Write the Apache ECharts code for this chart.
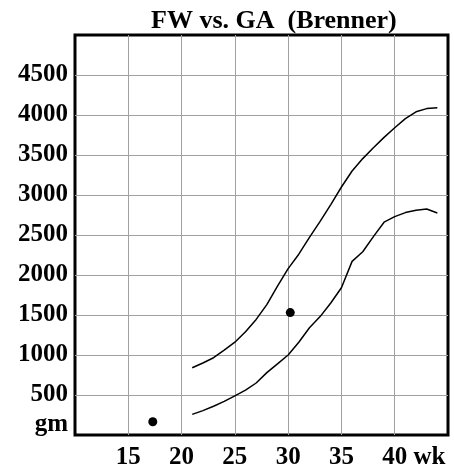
<!DOCTYPE html>
<html>
<head>
<meta charset="utf-8">
<script src="https://cdn.jsdelivr.net/npm/echarts@6/dist/echarts.min.js"></script>
<style>html,body{margin:0;padding:0;background:#fff;}#c{width:454px;height:474px;}</style>
</head>
<body>
<div id="c"></div>
<script>
var titleText = 'FW vs. GA  (Brenner)';
var weeks = [21,22,23,24,25,26,27,28,29,30,31,32,33,34,35,36,37,38,39,40,41,42,43,44];
var upper = [840,900,966,1060,1160,1290,1445,1630,1860,2080,2260,2470,2670,2880,3100,3300,3455,3590,3720,3840,3955,4040,4080,4090];
var lower = [258,305,360,420,490,560,650,780,890,1000,1160,1340,1480,1650,1840,2170,2290,2480,2660,2730,2780,2810,2825,2775];
var dotWeeks = [17.3, 30.2];
var dotWeights = [165, 1530];
var xUnit = 'wk';
var yUnit = 'gm';

var FONT = 'Liberation Serif';
var FS = 25;
function pairs(xs, ys){ return xs.map(function(x,i){ return [x, ys[i]]; }); }
var chart = echarts.init(document.getElementById('c'), null, {renderer:'canvas'});
chart.setOption({
  animation: false,
  backgroundColor: '#fff',
  title: {
    text: titleText, left: 146, top: 3,
    textStyle: {fontFamily: FONT, fontWeight: 'bold', fontSize: 26, color: '#000'}
  },
  grid: {left: 75, right: 6, top: 35, bottom: 39, show: true, borderColor: '#000', borderWidth: 3, backgroundColor: 'transparent'},
  xAxis: {
    type: 'value', min: 10, max: 45, interval: 5,
    axisLine: {show: false}, axisTick: {show: false},
    splitLine: {show: true, showMinLine: false, showMaxLine: false, lineStyle: {color: '#a0a0a0', width: 1}},
    axisLabel: {
      margin: 10, color: '#000', fontFamily: FONT, fontWeight: 'bold', fontSize: FS,
      formatter: function(v){ if (v === 10) return ''; if (v === 45) return '{u|' + xUnit + '}'; return String(v); },
      rich: {u: {fontFamily: FONT, fontWeight: 'bold', fontSize: FS, color: '#000', padding: [0, 37, 0, 0]}}
    }
  },
  yAxis: {
    type: 'value', min: 0, max: 5000, interval: 500,
    axisLine: {show: false}, axisTick: {show: false},
    splitLine: {show: true, showMinLine: false, showMaxLine: false, lineStyle: {color: '#a0a0a0', width: 1}},
    axisLabel: {
      margin: 7, color: '#000', fontFamily: FONT, fontWeight: 'bold', fontSize: FS,
      formatter: function(v){ if (v === 5000) return ''; if (v === 0) return '{g|' + yUnit + '}'; return String(v); },
      rich: {g: {fontFamily: FONT, fontWeight: 'bold', fontSize: FS, color: '#000', padding: [0, 0, 20, 0]}}
    }
  },
  series: [
    {type: 'line', data: pairs(weeks, upper), symbol: 'none', lineStyle: {color: '#000', width: 1.5}, z: 3},
    {type: 'line', data: pairs(weeks, lower), symbol: 'none', lineStyle: {color: '#000', width: 1.5}, z: 3},
    {type: 'scatter', data: pairs(dotWeeks, dotWeights), symbol: 'circle', symbolSize: 9, itemStyle: {color: '#000', opacity: 1}, z: 4}
  ]
});
</script>
</body>
</html>
